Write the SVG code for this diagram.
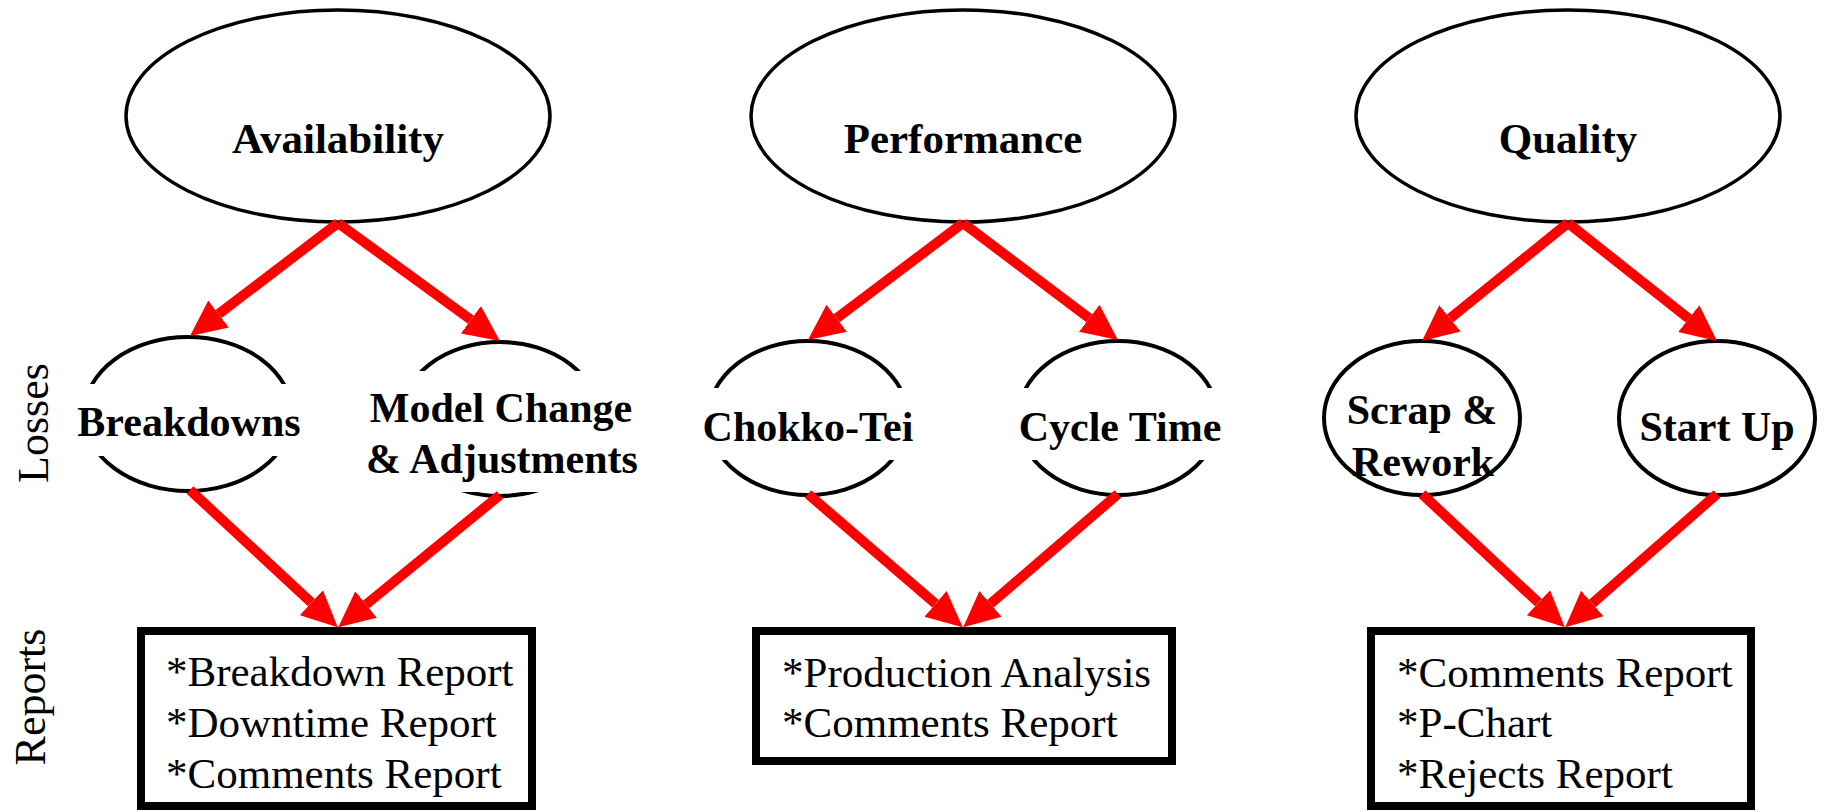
<svg xmlns="http://www.w3.org/2000/svg" width="1830" height="812" viewBox="0 0 1830 812">
<style>
.top{fill:#fff;stroke:#000;stroke-width:3.5}
.loss{fill:#fff;stroke:#000;stroke-width:4}
.band{fill:#fff;stroke:none}
.box{fill:#fff;stroke:#000;stroke-width:8}
.t{font-family:"Liberation Serif","Times New Roman",serif;font-weight:bold;font-size:42px;fill:#000;text-anchor:middle}
.tt{font-size:43px}
.r{font-family:"Liberation Serif","Times New Roman",serif;font-size:43px;fill:#000}
.side{font-family:"Liberation Serif","Times New Roman",serif;font-size:44px;fill:#000;text-anchor:middle}
.c{stroke:#f00;stroke-width:10;fill:none;marker-end:url(#ah)}
</style>
<defs>
<marker id="ah" markerUnits="userSpaceOnUse" markerWidth="40" markerHeight="40" viewBox="0 -20 40 40" refX="0" refY="0" orient="auto">
<path d="M0,-17 L36,0 L0,17 z" fill="#f00"/>
</marker>
</defs>
<rect width="1830" height="812" fill="#fff"/>

<text class="side" transform="translate(48,423) rotate(-90)">Losses</text>
<text class="side" transform="translate(45,697) rotate(-90)">Reports</text>

<g id="availability">
<ellipse class="top" cx="338" cy="116" rx="212" ry="106"/>
<text class="t tt" x="338" y="153">Availability</text>
</g>
<g id="performance">
<ellipse class="top" cx="963" cy="116" rx="212" ry="106"/>
<text class="t tt" x="963" y="153">Performance</text>
</g>
<g id="quality">
<ellipse class="top" cx="1568" cy="116" rx="212" ry="106"/>
<text class="t tt" x="1568" y="153">Quality</text>
</g>

<g id="breakdowns">
<ellipse class="loss" cx="188" cy="414" rx="104" ry="77"/>
<rect class="band" x="70" y="384" width="240" height="72"/>
<text class="t" x="189" y="436">Breakdowns</text>
</g>
<g id="model-change">
<ellipse class="loss" cx="500" cy="419" rx="100" ry="77"/>
<rect class="band" x="355" y="371" width="295" height="121"/>
<text class="t" x="501" y="422">Model Change</text>
<text class="t" x="502" y="473">&amp; Adjustments</text>
</g>
<g id="chokko-tei">
<ellipse class="loss" cx="808" cy="418" rx="100" ry="77"/>
<rect class="band" x="690" y="388" width="236" height="72"/>
<text class="t" x="808" y="441">Chokko-Tei</text>
</g>
<g id="cycle-time">
<ellipse class="loss" cx="1118" cy="418" rx="100" ry="77"/>
<rect class="band" x="1005" y="388" width="230" height="72"/>
<text class="t" x="1120" y="441">Cycle Time</text>
</g>
<g id="scrap-rework">
<ellipse class="loss" cx="1422" cy="418" rx="98" ry="77"/>
<text class="t" x="1422" y="424">Scrap &amp;</text>
<text class="t" x="1423" y="476">Rework</text>
</g>
<g id="start-up">
<ellipse class="loss" cx="1717" cy="418" rx="98" ry="77"/>
<text class="t" x="1717" y="441">Start Up</text>
</g>

<g id="reports-availability">
<rect class="box" x="141" y="631" width="391" height="175"/>
<text class="r" x="166" y="686">*Breakdown Report</text>
<text class="r" x="166" y="737">*Downtime Report</text>
<text class="r" x="166" y="788">*Comments Report</text>
</g>
<g id="reports-performance">
<rect class="box" x="756" y="631" width="416" height="130"/>
<text class="r" x="782" y="687">*Production Analysis</text>
<text class="r" x="782" y="737">*Comments Report</text>
</g>
<g id="reports-quality">
<rect class="box" x="1371" y="631" width="380" height="175"/>
<text class="r" x="1397" y="687">*Comments Report</text>
<text class="r" x="1397" y="737">*P-Chart</text>
<text class="r" x="1397" y="788">*Rejects Report</text>
</g>

<g id="connectors">
<line class="c" x1="338" y1="223" x2="218.6" y2="314.1"/>
<line class="c" x1="338" y1="223" x2="470.9" y2="319.8"/>
<line class="c" x1="963" y1="223" x2="836.7" y2="318.3"/>
<line class="c" x1="963" y1="223" x2="1089.3" y2="318.3"/>
<line class="c" x1="1568" y1="223" x2="1450" y2="318.4"/>
<line class="c" x1="1568" y1="223" x2="1688.8" y2="318.6"/>
<line class="c" x1="190" y1="490" x2="311.4" y2="602.7"/>
<line class="c" x1="500" y1="495" x2="366.1" y2="604.5"/>
<line class="c" x1="808" y1="494" x2="935.5" y2="603.8"/>
<line class="c" x1="1118" y1="494" x2="990.5" y2="603.8"/>
<line class="c" x1="1422" y1="494" x2="1538.5" y2="602.7"/>
<line class="c" x1="1717" y1="494" x2="1592.3" y2="603.5"/>
</g>
</svg>
